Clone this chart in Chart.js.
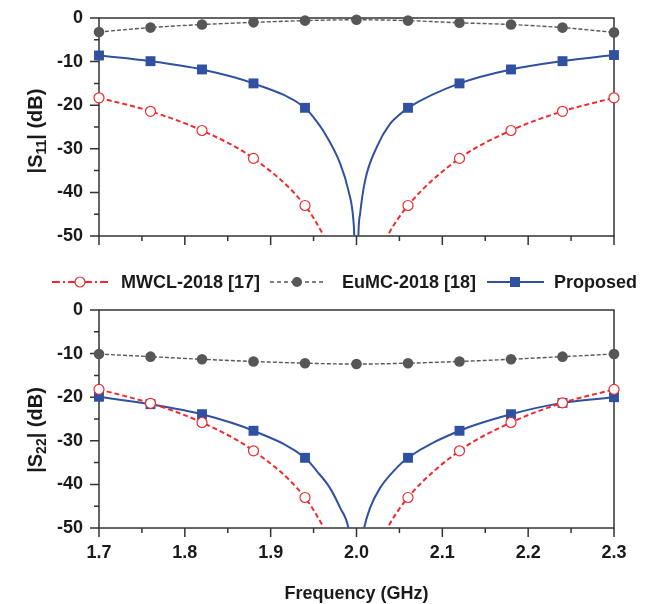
<!DOCTYPE html>
<html lang="en">
<head>
<meta charset="UTF-8">
<title>|S11| / |S22| comparison</title>
<script src="https://cdn.jsdelivr.net/npm/chart.js"></script>
<style>
  html, body { margin: 0; padding: 0; background: #fff; }
  #wrap { position: relative; width: 647px; height: 604px; }
  #topChart { position: absolute; left: 0; top: 0; }
  #bottomChart { position: absolute; left: 0; top: 262px; }
</style>
</head>
<body>
<div id="wrap">
  <canvas id="topChart" width="647" height="262"></canvas>
  <canvas id="bottomChart" width="647" height="342"></canvas>
</div>
<script>
// axis ticks
const xTicks = [1.7, 1.8, 1.9, 2.0, 2.1, 2.2, 2.3];
const xMinor = [1.75, 1.85, 1.95, 2.05, 2.15, 2.25];
const yTicks = [0, -10, -20, -30, -40, -50];
const yMinor = [-5, -15, -25, -35, -45];

// frequencies that carry a marker
const markerFreq = [1.7, 1.76, 1.82, 1.88, 1.94, 2.06, 2.12, 2.18, 2.24, 2.3];
const eumcFreq = [1.7, 1.76, 1.82, 1.88, 1.94, 2.0, 2.06, 2.12, 2.18, 2.24, 2.3];
const mwclFreq = [1.7, 1.76, 1.82, 1.88, 1.94, 1.962, 2.0, 2.036, 2.06, 2.12, 2.18, 2.24, 2.3];

// |S11| (dB)
const s11Eumc = [-3.2, -2.2, -1.5, -1.0, -0.6, -0.4, -0.6, -1.1, -1.5, -2.2, -3.3];
const s11Mwcl = [-18.3, -21.4, -25.8, -32.2, -43.0, -50, -65, -50, -43.0, -32.2, -25.8, -21.4, -18.3];
const s11PropFreq = [1.7, 1.76, 1.82, 1.88, 1.94, 1.95, 1.961, 1.981, 1.9906, 1.9964, 1.9975, 2.0,
  2.0022, 2.0042, 2.010, 2.0236, 2.039, 2.051, 2.06, 2.12, 2.18, 2.24, 2.3];
const s11Prop = [-8.6, -9.9, -11.8, -15.0, -20.6, -22.8, -25.8, -33.4, -39.6, -46.4, -50.5, -80,
  -50, -44.9, -37.3, -29.6, -24.3, -22.0, -20.6, -15.0, -11.8, -9.9, -8.5];

// |S22| (dB)
const s22Eumc = [-10.1, -10.7, -11.3, -11.8, -12.2, -12.4, -12.2, -11.8, -11.3, -10.7, -10.1];
const s22Mwcl = [-18.2, -21.4, -25.8, -32.3, -43.0, -50, -65, -50, -43.0, -32.3, -25.8, -21.3, -18.2];
const s22PropFreq = [1.7, 1.76, 1.82, 1.88, 1.94, 1.954, 1.969, 1.981, 1.9906, 1.999,
  2.0089, 2.0158, 2.0275, 2.043, 2.06, 2.12, 2.18, 2.24, 2.3];
const s22Prop = [-19.9, -21.6, -23.9, -27.7, -33.9, -37.0, -40.8, -45.4, -50, -62,
  -50, -45.4, -40.8, -37.0, -33.9, -27.7, -23.9, -21.3, -20.0];

const RED = '#ee2b2e';
const GRAY = '#575757';
const BLUE = '#3050a2';
const AXIS = '#333';
const TEXT = '#1a1a1a';
const FAMILY = '"Liberation Sans", Arial, sans-serif';
const CLIP = { left: 10, top: 10, right: 10, bottom: 0 };

function pts(fx, fy) {
  return fx.map((x, i) => ({ x: x, y: fy[i] }));
}
function markerRadius(r) {
  return ctx => (ctx.raw && markerFreq.includes(ctx.raw.x)) ? r : 0;
}

function makeDatasets(mwcl, eumc, propFreq, prop) {
  return [
    {
      label: 'MWCL-2018 [17]', data: pts(mwclFreq, mwcl),
      borderColor: RED, borderWidth: 2, borderDash: [5, 3],
      pointRadius: markerRadius(5), pointBackgroundColor: '#fff',
      pointBorderColor: RED, pointBorderWidth: 1.2,
      cubicInterpolationMode: 'monotone', clip: CLIP
    },
    {
      label: 'EuMC-2018 [18]', data: pts(eumcFreq, eumc),
      borderColor: GRAY, borderWidth: 1.4, borderDash: [4, 2],
      pointRadius: 5.3, pointBackgroundColor: GRAY,
      pointBorderColor: GRAY, pointBorderWidth: 0,
      cubicInterpolationMode: 'monotone', clip: CLIP
    },
    {
      label: 'Proposed', data: pts(propFreq, prop),
      borderColor: BLUE, borderWidth: 2,
      pointStyle: 'rect', pointRadius: markerRadius(7), pointBackgroundColor: BLUE,
      pointBorderColor: BLUE, pointBorderWidth: 0,
      cubicInterpolationMode: 'monotone', clip: CLIP
    }
  ];
}

function makeOptions(bottomAxis, padTop, xHeight, sub, titleY) {
  return {
    responsive: false,
    animation: false,
    events: [],
    layout: { padding: { top: padTop, right: 33, left: 0, bottom: 0 } },
    plugins: {
      legend: { display: false },
      tooltip: { enabled: false },
      yTitle: { sub: sub, y: titleY }
    },
    scales: {
      x: {
        type: 'linear', min: 1.7, max: 2.3,
        grid: { display: false, drawTicks: false },
        border: { display: false },
        afterBuildTicks: s => { s.ticks = xTicks.map(v => ({ value: v })); },
        afterFit: s => { s.height = xHeight; },
        ticks: {
          display: bottomAxis, padding: 14, color: TEXT,
          font: { family: FAMILY, size: 18, weight: 'bold' },
          callback: v => v.toFixed(1)
        },
        title: {
          display: bottomAxis, text: 'Frequency (GHz)', color: TEXT, padding: 0,
          font: { family: FAMILY, size: 18, weight: 'bold', lineHeight: 1.1 }
        }
      },
      y: {
        type: 'linear', min: -50, max: 0,
        grid: { display: false, drawTicks: false },
        border: { display: false },
        afterBuildTicks: s => { s.ticks = yTicks.map(v => ({ value: v })); },
        // fixed width, and no extra room asked above / below for the labels
        afterFit: s => { s.width = 99; s.paddingTop = 0; s.paddingBottom = 0; },
        ticks: {
          padding: 16, color: TEXT,
          font: { family: FAMILY, size: 18, weight: 'bold' },
          callback: v => String(v)
        }
      }
    }
  };
}

// frame with outward major / minor ticks, drawn under the curves
const axesPlugin = {
  id: 'axesFrame',
  beforeDatasetsDraw(chart) {
    const { ctx, chartArea: a, scales: { x, y } } = chart;
    ctx.save();
    ctx.strokeStyle = AXIS;
    ctx.lineWidth = 1.5;
    ctx.strokeRect(a.left, a.top, a.right - a.left, a.bottom - a.top);
    ctx.beginPath();
    xTicks.forEach(v => { const p = x.getPixelForValue(v); ctx.moveTo(p, a.bottom); ctx.lineTo(p, a.bottom + 9); });
    xMinor.forEach(v => { const p = x.getPixelForValue(v); ctx.moveTo(p, a.bottom); ctx.lineTo(p, a.bottom + 5); });
    yTicks.forEach(v => { const p = y.getPixelForValue(v); ctx.moveTo(a.left, p); ctx.lineTo(a.left - 9, p); });
    yMinor.forEach(v => { const p = y.getPixelForValue(v); ctx.moveTo(a.left, p); ctx.lineTo(a.left - 5, p); });
    ctx.stroke();
    ctx.restore();
  }
};

// rotated |Sxx| (dB) title with subscript
const yTitlePlugin = {
  id: 'yTitle',
  afterDraw(chart, args, opts) {
    const ctx = chart.ctx;
    const big = 'bold 20px ' + FAMILY;
    const small = 'bold 14px ' + FAMILY;
    ctx.save();
    ctx.fillStyle = TEXT;
    ctx.font = big;
    const w1 = ctx.measureText('|S').width;
    const w3 = ctx.measureText('| (dB)').width;
    ctx.font = small;
    const w2 = ctx.measureText(opts.sub).width;
    const total = w1 + w2 + w3;
    ctx.translate(42, opts.y);
    ctx.rotate(-Math.PI / 2);
    ctx.textBaseline = 'alphabetic';
    let x = -total / 2;
    ctx.font = big;
    ctx.fillText('|S', x, 0);
    x += w1;
    ctx.font = small;
    ctx.fillText(opts.sub, x, 4);
    x += w2;
    ctx.font = big;
    ctx.fillText('| (dB)', x, 0);
    ctx.restore();
  }
};

// shared legend between the two panels
const legendPlugin = {
  id: 'midLegend',
  afterDraw(chart) {
    const ctx = chart.ctx;
    const y = 20;
    ctx.save();
    ctx.lineWidth = 2;
    // MWCL
    ctx.strokeStyle = RED;
    ctx.setLineDash([8, 3, 2, 3]);
    ctx.beginPath(); ctx.moveTo(52, y); ctx.lineTo(108, y); ctx.stroke();
    ctx.setLineDash([]);
    ctx.fillStyle = '#fff'; ctx.lineWidth = 1.2;
    ctx.beginPath(); ctx.arc(80, y, 5, 0, Math.PI * 2); ctx.fill(); ctx.stroke();
    // EuMC
    ctx.strokeStyle = GRAY; ctx.lineWidth = 1.4;
    ctx.setLineDash([4, 3]);
    ctx.beginPath(); ctx.moveTo(270, y); ctx.lineTo(323, y); ctx.stroke();
    ctx.setLineDash([]);
    ctx.fillStyle = GRAY;
    ctx.beginPath(); ctx.arc(297, y, 5, 0, Math.PI * 2); ctx.fill();
    // Proposed
    ctx.strokeStyle = BLUE; ctx.lineWidth = 2;
    ctx.beginPath(); ctx.moveTo(487, y); ctx.lineTo(544, y); ctx.stroke();
    ctx.fillStyle = BLUE;
    ctx.fillRect(510, y - 5, 10, 10);
    // labels
    ctx.fillStyle = TEXT;
    ctx.font = 'bold 18px ' + FAMILY;
    ctx.textBaseline = 'middle';
    ctx.fillText('MWCL-2018 [17]', 121, y + 1);
    ctx.fillText('EuMC-2018 [18]', 342, y + 1);
    ctx.fillText('Proposed', 554, y + 1);
    ctx.restore();
  }
};

new Chart(document.getElementById('topChart'), {
  type: 'line',
  data: { datasets: makeDatasets(s11Mwcl, s11Eumc, s11PropFreq, s11Prop) },
  options: makeOptions(false, 18, 26, '11', 131),
  plugins: [axesPlugin, yTitlePlugin]
});

new Chart(document.getElementById('bottomChart'), {
  type: 'line',
  data: { datasets: makeDatasets(s22Mwcl, s22Eumc, s22PropFreq, s22Prop) },
  options: makeOptions(true, 48, 76, '22', 168),
  plugins: [axesPlugin, yTitlePlugin, legendPlugin]
});
</script>
</body>
</html>
